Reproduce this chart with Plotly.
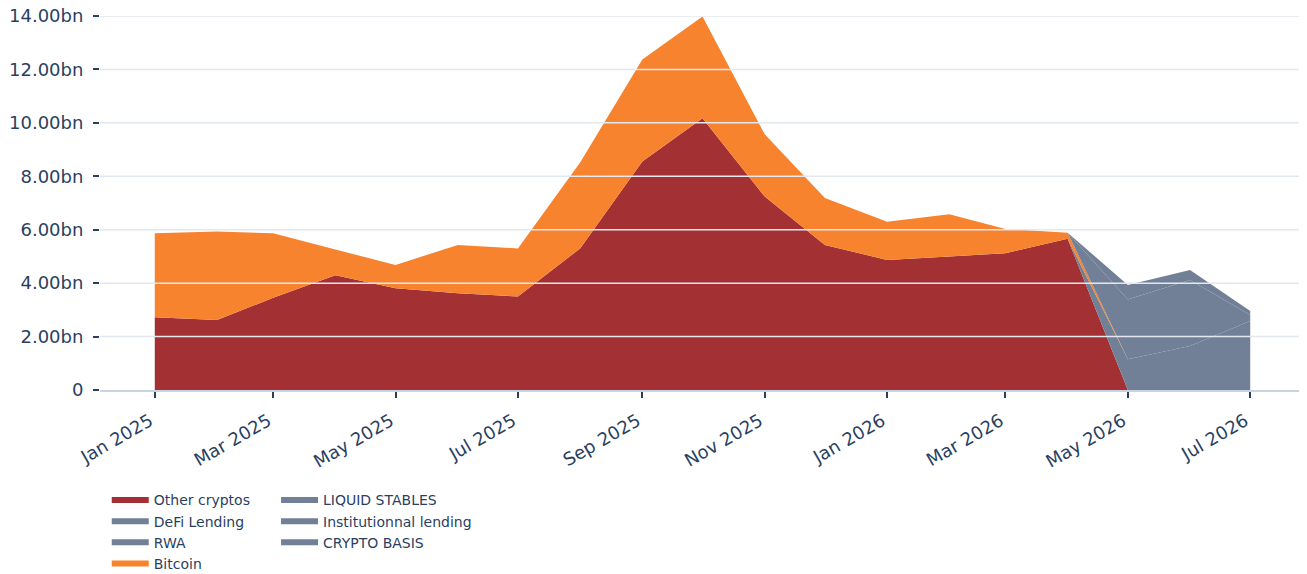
import plotly.graph_objects as go
import pandas as pd

# monthly points, values in bn
months = ["2025-01-01", "2025-02-01", "2025-03-01", "2025-04-01", "2025-05-01",
          "2025-06-01", "2025-07-01", "2025-08-01", "2025-09-01", "2025-10-01",
          "2025-11-01", "2025-12-01", "2026-01-01", "2026-02-01", "2026-03-01",
          "2026-04-01", "2026-05-01", "2026-06-01", "2026-07-01"]

other_cryptos = [2.72, 2.62, 3.45, 4.30, 3.81, 3.62, 3.50, 5.30, 8.55, 10.17,
                 7.24, 5.43, 4.87, 5.00, 5.12, 5.66, 0, 0, 0]
defi_lending = [0, 0, 0, 0, 0, 0, 0, 0, 0, 0, 0, 0, 0, 0, 0, 0, 1.15, 1.65, 2.58]
rwa = [0] * 19
bitcoin = [3.15, 3.31, 2.42, 0.96, 0.87, 1.81, 1.80, 3.22, 3.82, 3.81,
           2.33, 1.76, 1.43, 1.58, 0.91, 0.23, 0, 0, 0]
liquid_stables = [0, 0, 0, 0, 0, 0, 0, 0, 0, 0, 0, 0, 0, 0, 0, 0, 2.24, 2.47, 0.23]
inst_lending = [0, 0, 0, 0, 0, 0, 0, 0, 0, 0, 0, 0, 0, 0, 0, 0, 0.54, 0.37, 0.15]
crypto_basis = [0] * 19

y_ticks = [0, 2, 4, 6, 8, 10, 12, 14]
y_ticktext = ["0", "2.00bn", "4.00bn", "6.00bn", "8.00bn", "10.00bn", "12.00bn", "14.00bn"]

RED = "#A33133"
ORANGE = "#F7832F"
GRAY = "#718096"
TXT = "#2a3f5f"

series = [
    ("Other cryptos", other_cryptos, RED, "legend"),
    ("DeFi Lending", defi_lending, GRAY, "legend"),
    ("RWA", rwa, GRAY, "legend"),
    ("Bitcoin", bitcoin, ORANGE, "legend"),
    ("LIQUID STABLES", liquid_stables, GRAY, "legend2"),
    ("Institutionnal lending", inst_lending, GRAY, "legend2"),
    ("CRYPTO BASIS", crypto_basis, GRAY, "legend2"),
]

fig = go.Figure()
for name, vals, col, leg in series:
    fig.add_trace(go.Scatter(
        x=months, y=vals, name=name, mode="none",
        stackgroup="one", fillcolor=col, legend=leg,
    ))

# gridlines drawn over the areas
for v in y_ticks[1:]:
    fig.add_shape(type="line", xref="paper", x0=0, x1=1, yref="y", y0=v, y1=v,
                  layer="above", line=dict(color="#E3E7EE", width=1.5))

# 5% padding on each side of the date span
t0 = pd.Timestamp(months[0])
t1 = pd.Timestamp(months[-1])
pad = (t1 - t0) * 0.05

fig.update_layout(
    width=1307, height=574,
    margin=dict(l=92, r=10, t=8, b=192, autoexpand=False),
    plot_bgcolor="white", paper_bgcolor="white",
    font=dict(family="DejaVu Sans", color=TXT, size=18),
    xaxis=dict(
        type="date", range=[t0 - pad, t1 + pad], automargin=False,
        tick0="2025-01-01", dtick="M2", tickformat="%b %Y\u00a0", tickangle=-30,
        ticks="outside", ticklen=6, tickcolor=TXT, tickwidth=1.5,
        ticklabelstandoff=3,
        showgrid=False, showline=True, linecolor="#C8D4E3", linewidth=1.5,
        zeroline=False,
    ),
    yaxis=dict(
        range=[0, 14], tickvals=y_ticks, ticktext=y_ticktext, automargin=False,
        ticks="outside", ticklen=6, tickcolor=TXT, tickwidth=1.5,
        ticklabelstandoff=6, ticklabeloverflow="allow",
        showgrid=False, zeroline=False, showline=False,
    ),
    legend=dict(x=0.0056, y=-0.2523, xanchor="left", yanchor="top",
                traceorder="normal", itemwidth=37,
                font=dict(size=14), bgcolor="rgba(0,0,0,0)"),
    legend2=dict(x=0.1461, y=-0.2523, xanchor="left", yanchor="top",
                 traceorder="normal", itemwidth=37,
                 font=dict(size=14), bgcolor="rgba(0,0,0,0)"),
    showlegend=True,
)

fig.write_html("out.html")
